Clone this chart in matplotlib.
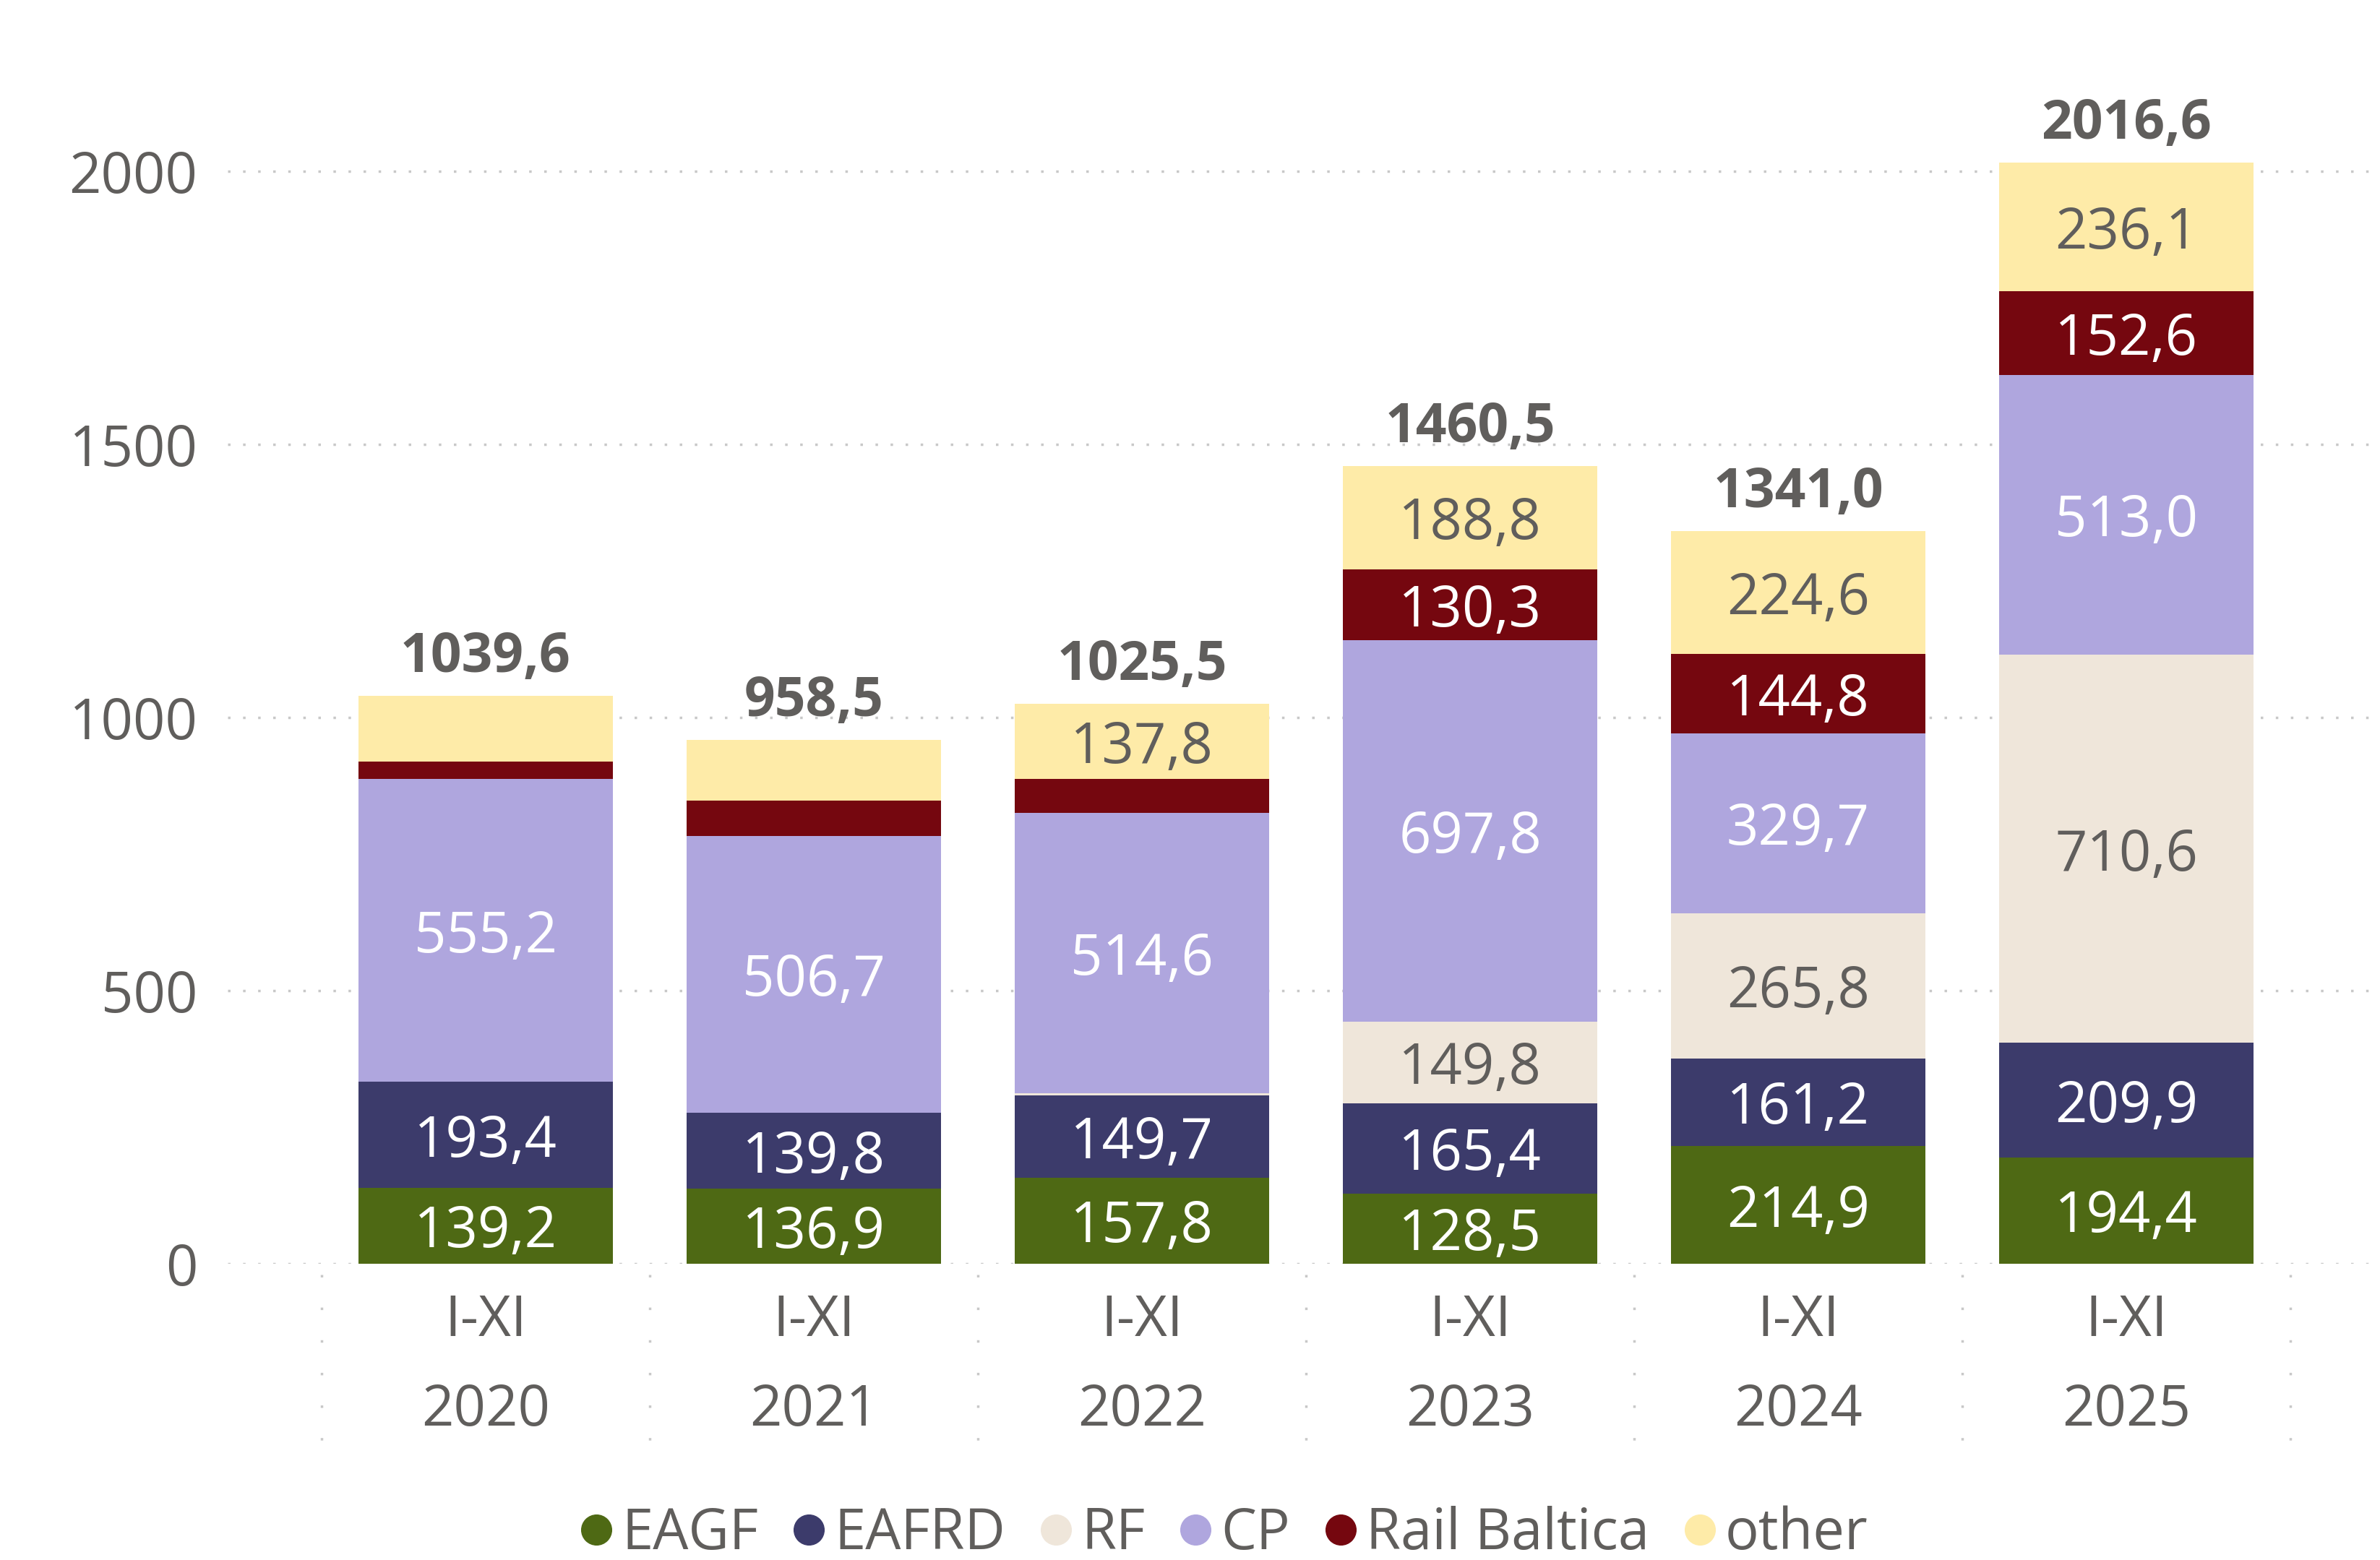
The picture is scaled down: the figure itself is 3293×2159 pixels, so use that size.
import matplotlib
matplotlib.use("Agg")
from matplotlib import pyplot as plt
from matplotlib.lines import Line2D
import numpy as np

periods = ["I-XI", "I-XI", "I-XI", "I-XI", "I-XI", "I-XI"]
years = ["2020", "2021", "2022", "2023", "2024", "2025"]

eagf = [139.2, 136.9, 157.8, 128.5, 214.9, 194.4]
eafrd = [193.4, 139.8, 149.7, 165.4, 161.2, 209.9]
rf = [0.0, 0.0, 4.0, 149.8, 265.8, 710.6]
cp = [555.2, 506.7, 514.6, 697.8, 329.7, 513.0]
rail_baltica = [31.9, 65.2, 61.6, 130.3, 144.8, 152.6]
other = [119.9, 109.9, 137.8, 188.8, 224.6, 236.1]
totals = [1039.6, 958.5, 1025.5, 1460.5, 1341.0, 2016.6]

series_names = ["EAGF", "EAFRD", "RF", "CP", "Rail Baltica", "other"]
series_values = [eagf, eafrd, rf, cp, rail_baltica, other]
series_colors = ["#4E6914", "#3C3B6B", "#EFE6DA", "#AFA6DE", "#75070F", "#FEEBA8"]
label_colors = ["white", "white", "#605E5C", "white", "white", "#605E5C"]

GRAY = "#605E5C"
FS = 56

plt.rcParams["font.family"] = ["Open Sans", "DejaVu Sans"]

fig = plt.figure(figsize=(32.93, 21.59), dpi=100)
ax = fig.add_axes([0.0957, 0.19, 0.9043, 0.770])

x = np.arange(len(years))
bottom = np.zeros(len(years))
for name, vals, col, tcol in zip(series_names, series_values, series_colors, label_colors):
    vals = np.array(vals)
    ax.bar(x, vals, width=0.775, bottom=bottom, color=col, zorder=3)
    for xi, b, v in zip(x, bottom, vals):
        if v > 125:
            ax.text(xi, b + v / 2, f"{v:.1f}".replace(".", ","), ha="center", va="center_baseline",
                    color=tcol, fontsize=FS, zorder=4)
    bottom += vals

for xi, t in zip(x, totals):
    ax.annotate(f"{t:.1f}".replace(".", ","), (xi, t), xytext=(0, 11), textcoords="offset points",
                ha="center", va="bottom", fontsize=FS - 2, fontweight="bold", color=GRAY)

ax.set_xlim(-0.786, 5.773)
ax.set_ylim(0, 2200)
ax.set_yticks([0, 500, 1000, 1500, 2000])
ax.tick_params(axis="y", length=0, pad=30, labelsize=FS, labelcolor=GRAY)
ax.set_xticks([])
ax.yaxis.grid(True, color="#C8C8C8", linestyle=(0, (1, 5)), linewidth=2.5, zorder=0)
ax.set_axisbelow(True)
for s in ax.spines.values():
    s.set_visible(False)

# category labels and dotted separators below the axis
trans = ax.get_xaxis_transform()
for xi, p, yr in zip(x, periods, years):
    ax.text(xi, -0.048, p, transform=trans, ha="center", va="center", fontsize=FS, color=GRAY)
    ax.text(xi, -0.1225, yr, transform=trans, ha="center", va="center", fontsize=FS, color=GRAY)
for sx in np.arange(-0.5, len(years), 1.0):
    ax.plot([sx, sx], [-0.009, -0.154], transform=trans, color="#C8C8C8",
            linestyle=(0, (1, 12)), linewidth=2.5, clip_on=False)

handles = [Line2D([], [], marker="o", linestyle="", markersize=30, color=c) for c in series_colors]
leg = fig.legend(handles, series_names, loc="center", bbox_to_anchor=(0.513, 0.0165), ncol=6,
                 frameon=False, fontsize=FS, handletextpad=0.05, columnspacing=0.5,
                 handlelength=0.8, borderaxespad=0)
for t in leg.get_texts():
    t.set_color(GRAY)

fig.savefig("out.png", dpi=100)
